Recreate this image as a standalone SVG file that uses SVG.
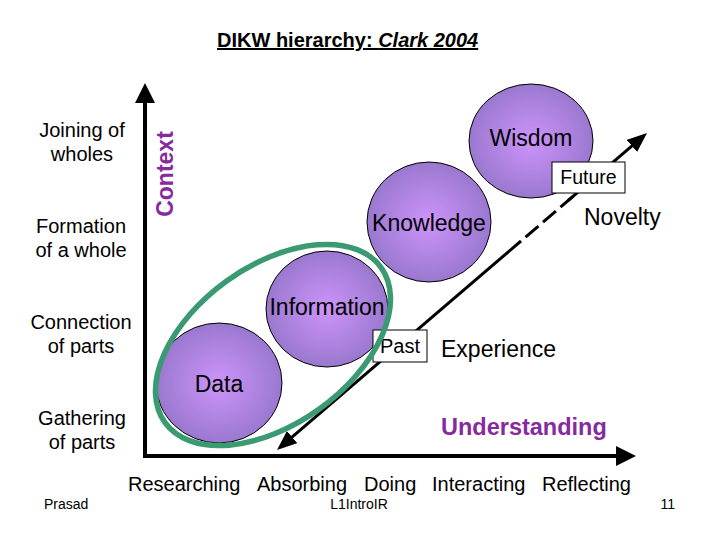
<svg xmlns="http://www.w3.org/2000/svg" width="720" height="540" viewBox="0 0 720 540">
<style>
  text { font-family: "Liberation Sans", Arial, sans-serif; fill: #000; }
  .lbl { font-size: 20px; text-anchor: middle; }
  .node { font-size: 23px; text-anchor: middle; }
  .act { font-size: 20px; }
  .foot { font-size: 14px; }
  .ball { fill: url(#ballGrad); stroke: #000; stroke-width: 1; }
  .axis { fill: none; stroke: #000; stroke-width: 4; stroke-linejoin: miter; }
  .diag { fill: none; stroke: #000; stroke-width: 3; }
  .box { fill: #fff; stroke: #000; stroke-width: 1; }
  .purple { fill: #862a9e; font-weight: bold; }
</style>
<defs>
  <radialGradient id="ballGrad" cx="50%" cy="50%" r="50%">
    <stop offset="0%" stop-color="#cd94fa"/>
    <stop offset="100%" stop-color="#9a78cf"/>
  </radialGradient>
  <marker id="ahAxis" viewBox="0 0 20 20" refX="6" refY="10" markerWidth="20" markerHeight="20" orient="auto-start-reverse" markerUnits="userSpaceOnUse">
    <path d="M0,0 L20,10 L0,20 z" fill="#000"/>
  </marker>
  <marker id="ahDiag" viewBox="0 0 20 16" refX="6" refY="8" markerWidth="20" markerHeight="16" orient="auto-start-reverse" markerUnits="userSpaceOnUse">
    <path d="M0,0 L20,8 L0,16 z" fill="#000"/>
  </marker>
</defs>
<rect width="720" height="540" fill="#fff"/>

<text x="217" y="47" font-size="20" font-weight="bold" text-decoration="underline">DIKW hierarchy: <tspan font-style="italic">Clark 2004</tspan></text>

<g id="left-labels">
  <text class="lbl" x="82" y="137">Joining of</text>
  <text class="lbl" x="82" y="161">wholes</text>
  <text class="lbl" x="81" y="233">Formation</text>
  <text class="lbl" x="81" y="257">of a whole</text>
  <text class="lbl" x="81" y="329">Connection</text>
  <text class="lbl" x="81" y="353">of parts</text>
  <text class="lbl" x="82" y="425">Gathering</text>
  <text class="lbl" x="82" y="449">of parts</text>
</g>

<g id="connectors">
  <path class="axis" d="M145,97 L145,456 L622,456" marker-start="url(#ahAxis)" marker-end="url(#ahAxis)"/>
  <line class="diag" x1="287.6" y1="440.9" x2="521" y2="241" marker-start="url(#ahDiag)"/>
  <line class="diag" x1="521" y1="241" x2="574" y2="195.5" stroke-dasharray="17 6" stroke-dashoffset="17"/>
  <line class="diag" x1="568" y1="200.6" x2="636.4" y2="142.1" marker-end="url(#ahDiag)"/>
</g>

<text class="purple" font-size="23" text-anchor="middle" transform="translate(173,174) rotate(-90)">Context</text>

<g id="wisdom">
  <ellipse class="ball" cx="531" cy="141" rx="62" ry="57"/>
  <text class="node" x="531" y="146">Wisdom</text>
</g>
<g id="knowledge">
  <ellipse class="ball" cx="429" cy="222" rx="62" ry="60"/>
  <text class="node" x="429" y="231">Knowledge</text>
</g>
<g id="information">
  <ellipse class="ball" cx="327" cy="309" rx="61" ry="58"/>
  <text class="node" x="327" y="315" font-size="24">Information</text>
</g>
<g id="data">
  <ellipse class="ball" cx="219" cy="383" rx="63" ry="60"/>
  <text class="node" x="219" y="392">Data</text>
</g>

<g id="future">
  <rect class="box" x="552" y="162" width="73" height="31"/>
  <text x="588.5" y="184" font-size="19.5" text-anchor="middle">Future</text>
</g>
<g id="past">
  <rect class="box" x="373" y="330" width="54" height="32"/>
  <text x="400" y="353" font-size="20" text-anchor="middle">Past</text>
</g>

<g id="group-ellipse">
  <ellipse cx="273" cy="345" rx="133" ry="79" transform="rotate(-35.6 273 345)" fill="none" stroke="#3b9a72" stroke-width="5.5"/>
</g>

<text x="584" y="225" font-size="23">Novelty</text>
<text x="441" y="357" font-size="23">Experience</text>
<text class="purple" x="441" y="435" font-size="23.5">Understanding</text>

<g id="activities">
  <text class="act" x="128" y="491">Researching</text>
  <text class="act" x="257" y="491">Absorbing</text>
  <text class="act" x="364" y="491">Doing</text>
  <text class="act" x="432" y="491">Interacting</text>
  <text class="act" x="542" y="491">Reflecting</text>
</g>

<g id="footer">
  <text class="foot" x="44" y="509">Prasad</text>
  <text class="foot" x="359" y="509" text-anchor="middle">L1IntroIR</text>
  <text class="foot" x="675" y="509" text-anchor="end">11</text>
</g>
</svg>
